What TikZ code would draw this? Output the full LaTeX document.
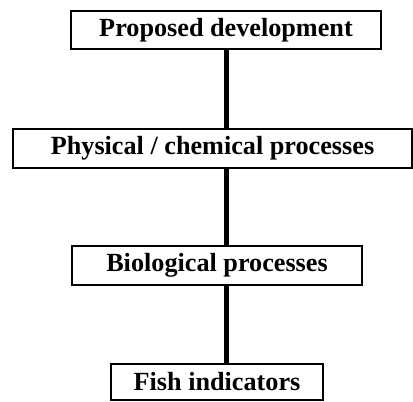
\documentclass[tikz,border=0pt]{standalone}
\usepackage{fontspec}
\setmainfont{Liberation Serif}
\usetikzlibrary{positioning}
\colorlet{Cline}{black}
\tikzset{
  stagebox/.style={draw=Cline, line width=0.8pt, inner sep=0pt, align=center,
    font=\bfseries\fontsize{13.1}{15}\selectfont},
  link/.style={draw=Cline, line width=2.5pt},
}

\begin{document}
\begin{tikzpicture}[x=0.5pt, y=-0.5pt]

%% picture frame (fixes margins)
\useasboundingbox (0,0) rectangle (413,402);

%%==========================================================================
%% STAGES
%%==========================================================================
\node[stagebox, minimum width=155pt, minimum height=19pt] (prop) at (226, 30)
  {Proposed development};
\node[stagebox, minimum width=199.5pt, minimum height=19.5pt] (phys) at (212.5, 148.5)
  {Physical / chemical processes};
\node[stagebox, minimum width=145pt, minimum height=19.5pt] (bio) at (217, 265.5)
  {Biological processes};
\node[stagebox, minimum width=106pt, minimum height=18pt] (fish) at (217, 382)
  {Fish indicators};

%%==========================================================================
%% LINKS
%%==========================================================================
\draw[link] (prop.south) -- (prop.south |- phys.north);
\draw[link] (prop.south |- phys.south) -- (prop.south |- bio.north);
\draw[link] (prop.south |- bio.south) -- (prop.south |- fish.north);

\end{tikzpicture}
\end{document}
